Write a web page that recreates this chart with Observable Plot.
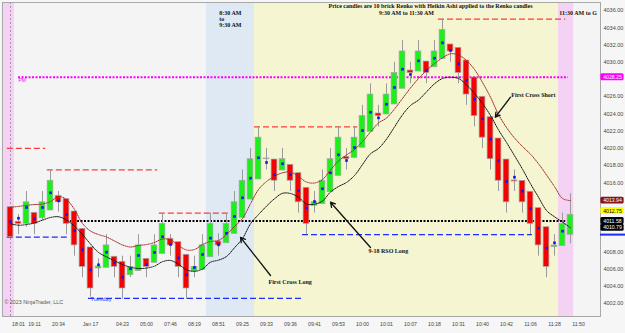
<!DOCTYPE html>
<html><head><meta charset="utf-8">
<script src="https://cdn.jsdelivr.net/npm/d3@7"></script>
<script src="https://cdn.jsdelivr.net/npm/@observablehq/plot@0.6"></script>
<style>
body{margin:0;background:#f6f6f6;}
#chart svg{display:block;background:#f6f6f6;}
</style></head><body><div id="chart"></div>
<script>
// ---- Candle data (Renko bricks with Heikin Ashi), one entry per bar ----
const openP = [4013.18,4011.49,4011.25,4012.53,4011.90,4012.80,4014.50,4014.11,4012.68,4010.67,
4008.51,4006.07,4006.15,4007.43,4006.85,4005.29,4005.76,4007.19,4006.73,4007.77,
4009.52,4009.12,4007.66,4005.72,4005.92,4007.38,4009.20,4009.00,4010.09,4011.95,
4014.07,4016.40,4018.83,4018.71,4017.44,4018.10,4017.13,4015.43,4013.34,4013.53,
4014.92,4016.82,4019.03,4018.91,4020.07,4021.93,4024.05,4023.94,4025.10,4026.92,
4029.04,4028.92,4030.08,4029.42,4030.40,4032.06,4031.67,4030.20,4028.23,4025.99,
4023.62,4021.15,4018.71,4016.28,4016.24,4014.97,4013.07,4010.86,4008.54,4008.66,4009.98];
const highP = [4013.18,4012.33,4015.00,4012.53,4015.00,4017.50,4015.00,4014.11,4012.68,4010.67,
4008.51,4007.19,4010.00,4007.43,4007.50,4007.50,4010.00,4007.19,4010.00,4012.50,
4010.00,4009.12,4007.66,4007.50,4010.00,4012.50,4010.09,4012.50,4015.00,4017.50,
4020.00,4022.50,4020.00,4018.71,4020.00,4018.10,4017.13,4015.43,4015.00,4017.50,
4020.00,4022.50,4020.00,4022.50,4025.00,4027.50,4025.00,4027.50,4030.00,4032.50,
4030.00,4032.50,4030.08,4032.50,4035.00,4032.06,4031.67,4030.20,4028.23,4025.99,
4023.62,4021.15,4018.71,4017.50,4016.24,4014.97,4013.07,4010.86,4010.00,4012.50,4014.74];
const lowP = [4009.70,4010.00,4010.86,4010.00,4011.64,4012.80,4012.60,4010.00,4007.50,4005.00,
4002.74,4005.00,4006.15,4005.00,4002.50,4005.00,4005.76,4005.00,4006.73,4007.77,
4007.50,4005.00,4002.50,4005.00,4005.92,4007.38,4007.50,4009.00,4010.09,4011.95,
4014.07,4016.40,4017.50,4015.00,4017.44,4015.00,4012.50,4010.00,4012.50,4013.53,
4014.92,4016.82,4017.50,4018.91,4020.07,4021.93,4022.50,4023.94,4025.10,4026.92,
4027.50,4028.92,4027.50,4029.42,4030.40,4030.00,4027.50,4025.00,4022.50,4020.00,
4017.50,4015.00,4012.50,4015.00,4012.50,4010.00,4007.50,4005.00,4007.50,4008.66,4008.93];
const closeP = [4009.70,4011.25,4013.75,4011.25,4013.75,4016.25,4013.75,4011.25,4008.75,4006.25,
4003.75,4006.30,4008.75,4006.25,4003.75,4006.25,4008.75,4006.25,4008.75,4011.25,
4008.75,4006.25,4003.75,4006.25,4008.75,4011.25,4008.75,4011.25,4013.75,4016.25,
4018.75,4021.25,4018.75,4016.25,4018.75,4016.25,4013.75,4011.25,4013.75,4016.25,
4018.75,4021.25,4018.75,4021.25,4023.75,4026.25,4023.75,4026.25,4028.75,4031.25,
4028.75,4031.25,4028.75,4031.25,4033.75,4031.25,4028.75,4026.25,4023.75,4021.25,
4018.75,4016.25,4013.75,4016.16,4013.75,4011.25,4008.75,4006.25,4008.74,4011.25,4012.30];
// blue markers (underlying Renko price)
const renkoDot = [4011.52,4011.90,4013.15,4011.83,4013.15,4014.85,4013.92,4012.33,4010.48,4008.24,
4005.92,4006.50,4007.96,4006.73,4005.06,4006.03,4007.58,4006.53,4007.93,4009.75,
4008.85,4007.31,4005.34,4006.19,4007.69,4009.59,4008.82,4010.16,4012.10,4014.27,
4016.55,4018.91,4018.37,4016.94,4018.22,4016.94,4015.12,4013.11,4013.84,4015.32,
4017.17,4019.26,4018.60,4020.11,4022.08,4024.20,4023.55,4025.13,4027.07,4029.19,
4028.58,4030.16,4029.04,4030.47,4032.25,4031.36,4029.82,4027.88,4025.71,4023.44,
4021.07,4018.60,4016.16,4016.66,4015.04,4013.00,4010.75,4008.43,4009.05,4010.40,null];
// moving averages
const emaFast = [4013.18,4013.27,4013.40,4013.49,4013.55,4013.84,4014.42,4014.07,4012.91,4011.29,
4010.42,4010.01,4009.72,4009.26,4008.80,4008.56,4008.74,4008.85,4009.09,4009.49,
4009.40,4008.74,4008.22,4008.27,4008.85,4009.20,4009.32,4010.01,4010.94,4011.87,
4013.58,4015.23,4016.16,4016.77,4017.17,4017.26,4016.74,4016.10,4015.99,4016.39,
4017.50,4018.54,4019.24,4019.87,4020.80,4021.90,4022.95,4023.53,4024.57,4025.79,
4027.01,4028.11,4029.04,4029.85,4030.51,4030.98,4030.84,4030.20,4029.16,4027.65,
4025.94,4023.94,4022.43,4021.21,4020.22,4019.33,4018.22,4016.92,4015.58,4014.19,4013.94];
const emaSlow = [4011.26,4011.09,4011.17,4011.35,4011.68,4011.99,4012.07,4011.70,4010.97,4010.01,
4008.91,4007.93,4007.42,4006.96,4006.53,4006.22,4006.07,4006.12,4006.34,4006.86,
4007.00,4006.56,4005.92,4005.74,4006.01,4006.80,4007.04,4007.46,4008.48,4009.55,
4011.26,4012.33,4013.30,4014.16,4014.79,4014.77,4014.33,4013.55,4013.53,4013.90,
4014.94,4015.58,4016.05,4016.86,4018.13,4019.38,4019.99,4021.08,4022.49,4023.90,
4024.98,4025.61,4026.56,4027.50,4028.11,4028.26,4028.11,4027.38,4026.37,4025.21,
4023.82,4022.15,4020.69,4019.16,4017.59,4015.90,4014.34,4012.80,4012.07,4011.46,4010.79];

// ---- Time axis ----
const tickBar = [1,3,6,10,14,17,20,23,26,29,32,35,38,41,44,47,50,53,56,59,62,65,68,71];
const tickLabel = ["18:01","19:11","20:34","Jan 17","04:23","05:00","07:46","08:19","08:51","09:25","09:33","09:36","09:41","09:53","10:00","10:01","10:07","10:18","10:31","10:40","10:42","11:06","11:28","11:50"];
// price ticks visible on the right axis (the ones under the price tags are hidden)
const priceTicks = [4002,4004,4006,4008,4016,4018,4020,4022,4024,4026,4030,4032,4034,4036];

// ---- Session shading (bar index ranges) ----
const sessionName = ["overnight","prior","open","main","close"];
const sessionFrom = [-1, 0.5, 24.5, 30.5, 68.5];
const sessionTo   = [0.5, 24.5, 30.5, 68.5, 70.4];

// ---- Horizontal levels ----
const levelPrice = [4020.0, 4017.5, 4009.7, 4012.5, 4002.6, 4022.5, 4010.0, 4035.0];
const levelFrom  = [-0.4, 4.6, -0.4, 18.6, 9.75, 30.5, 36.5, 53.5];
const levelTo    = [4.4, 18.4, 7.25, 27.25, 36.5, 43.4, 65.25, 69.4];
const levelSide  = ["high","high","low","high","low","high","low","high"];
const pmLevel = 4028.25, pmFrom = 1, pmTo = 69.75;
const pivotLevel = 4011.58, pivotFrom = 7.5, pivotTo = 69.4;

// ---- Price tags on the right axis ----
const tagValue = [4028.25, 4013.94, 4012.75, 4011.58, 4010.79];
const tagKind  = ["pm","fast","last","pivot","slow"];

// ---- Annotations ----
const noteText = ["Price candles are 10 brick Renko with Heikin Ashi applied to the Renko candles",
  "9:30 AM to 11:30 AM","8:30 AM","to","9:30 AM","11:30 AM to G",
  "First Cross Long","9-18 RSO Long","First Cross Short"];
const noteBar = [52.5, 49.5, 26.1, 26.1, 26.1, 68.6, 32.25, 44.75, 62.6];
const notePrice = [4036.46, 4035.69, 4035.65, 4034.96, 4034.26, 4035.65, 4004.48, 4008.12, 4026.14];
const noteAnchor = ["middle","middle","start","start","start","start","start","start","start"];
const arrowFromBar = [32.5, 45, 62.5], arrowFromPrice = [4005.26, 4008.51, 4025.94];
const arrowToBar = [28.75, 40, 60.6], arrowToPrice = [4009.67, 4013.76, 4023.62];

// ---- build tables ----
const candles = openP.map((o, i) => ({i, o, h: highP[i], l: lowP[i], c: closeP[i], dot: renkoDot[i], f: emaFast[i], s: emaSlow[i]}));
const sessions = sessionName.map((n, k) => ({n, x1: sessionFrom[k], x2: sessionTo[k]}));
const sessionColor = {overnight:"#f3d2f3", prior:"#f4f4f4", open:"#dfe9f4", main:"#f6f5d2", close:"#f3d2f3"};
const levels = levelPrice.map((p, k) => ({p, x1: levelFrom[k], x2: levelTo[k], side: levelSide[k]}));
const tags = tagValue.map((v, k) => ({v, k: tagKind[k]}));
const tagFill = {pm:"#ff00ff", fast:"#8b1212", last:"#ffff00", pivot:"#000000", slow:"#000000"};
const tagText = {pm:"#ffffff", fast:"#ffffff", last:"#000000", pivot:"#ffffff", slow:"#ffffff"};
const notes = noteText.map((t, k) => ({t, x: noteBar[k], y: notePrice[k], a: noteAnchor[k]}));
const arrows = arrowFromBar.map((x, k) => ({x1: x, y1: arrowFromPrice[k], x2: arrowToBar[k], y2: arrowToPrice[k]}));
const tickMap = new Map(tickBar.map((b, k) => [b, tickLabel[k]]));
const serif = "'Liberation Serif', 'DejaVu Serif', serif";
const sans = "'Liberation Sans', Arial, sans-serif";
const noteStyle = {x: "x", y: "y", text: "t", fontFamily: serif, fontWeight: "bold", fontSize: 6, fill: "#111"};

const chart = Plot.plot({
  width: 625, height: 333,
  marginTop: 2, marginBottom: 17, marginLeft: 2, marginRight: 25,
  x: {domain: [-1, 73.75], axis: null},
  y: {domain: [4000.5, 4036.93], axis: null},
  style: {fontFamily: sans, background: "#f6f6f6"},
  marks: [
    Plot.frame({fill: "#f4f4f4"}),
    ...sessions.map(s => Plot.rect([s], {x1: "x1", x2: "x2", fill: sessionColor[s.n]})),
    Plot.ruleX([0], {stroke: "#b48ab4", strokeDasharray: "2,2", strokeWidth: 1}),
    // levels
    Plot.ruleY(levels.filter(d => d.side === "high"), {y: "p", x1: "x1", x2: "x2", stroke: "#ff3a3a", strokeWidth: 1.3, strokeDasharray: "6,3"}),
    Plot.ruleY(levels.filter(d => d.side === "low"), {y: "p", x1: "x1", x2: "x2", stroke: "#1a2cff", strokeWidth: 1.3, strokeDasharray: "6,3"}),
    Plot.ruleY([pmLevel], {x1: pmFrom, x2: pmTo, stroke: "#ff00ff", strokeWidth: 2, strokeDasharray: "2,1.5"}),
    Plot.ruleY([pivotLevel], {x1: pivotFrom, x2: pivotTo, stroke: "#000", strokeWidth: 1.8, strokeDasharray: "2,1.5"}),
    Plot.text(["Tuesday"], {x: 10, y: 4002.45, text: d => d, textAnchor: "start", fill: "#3a46ff", fontSize: 5.5}),
    Plot.text(["PM"], {x: 1, y: 4027.95, text: d => d, textAnchor: "start", fill: "#ff00ff", fontSize: 5}),
    // candles
    Plot.ruleX(candles, {x: "i", y1: "l", y2: "h", stroke: "#9a9a9a", strokeWidth: 1}),
    Plot.rect(candles, {x1: d => d.i - 0.36, x2: d => d.i + 0.36, y1: "o", y2: "c",
      fill: d => d.c >= d.o ? "#1cf01c" : "#f80000", stroke: "#a6a6a6", strokeWidth: 0.7}),
    Plot.line(candles, {x: "i", y: "f", curve: "catmull-rom", stroke: "#a02a2a", strokeWidth: 1, strokeDasharray: "1,1.1"}),
    Plot.line(candles, {x: "i", y: "s", curve: "catmull-rom", stroke: "#111", strokeWidth: 1, strokeDasharray: "1,1.1"}),
    Plot.dot(candles.filter(d => d.dot != null), {x: "i", y: "dot", r: 1.5, symbol: "square", fill: "#1414ff"}),
    // annotations
    Plot.arrow(arrows, {x1: "x1", y1: "y1", x2: "x2", y2: "y2", stroke: "#111", strokeWidth: 1.3, headLength: 6}),
    Plot.text(notes.filter(d => d.a === "middle"), {...noteStyle, textAnchor: "middle"}),
    Plot.text(notes.filter(d => d.a === "start"), {...noteStyle, textAnchor: "start"}),
    Plot.text(["© 2023 NinjaTrader, LLC"], {x: -0.75, y: 4002.16, text: d => d, textAnchor: "start", fill: "#555", fontSize: 5.3}),
    Plot.frame({stroke: "#a8a8a8"}),
    // axes
    Plot.axisY({ticks: priceTicks, anchor: "right", tickSize: 0, tickPadding: 3, tickFormat: d3.format(".2f"), fontSize: 5.5, color: "#444"}),
    Plot.axisX({ticks: tickBar, anchor: "bottom", tickSize: 0, tickPadding: 6, tickFormat: d => tickMap.get(d), fontSize: 5.2, color: "#444"}),
    // price tags
    Plot.ruleY([4010.0], {x1: 73.75, x2: 76.9, stroke: "#1a2cff", strokeWidth: 2}),
    Plot.rect(tags, {x1: 73.8, x2: 76.7, y1: d => d.v - 0.4, y2: d => d.v + 0.4, fill: d => tagFill[d.k], rx: 1.5}),
    Plot.text(tags, {x: 75.25, y: "v", text: d => d.v.toFixed(2), fill: d => tagText[d.k], fontSize: 5.2})
  ]
});
document.getElementById("chart").append(chart);
</script></body></html>
